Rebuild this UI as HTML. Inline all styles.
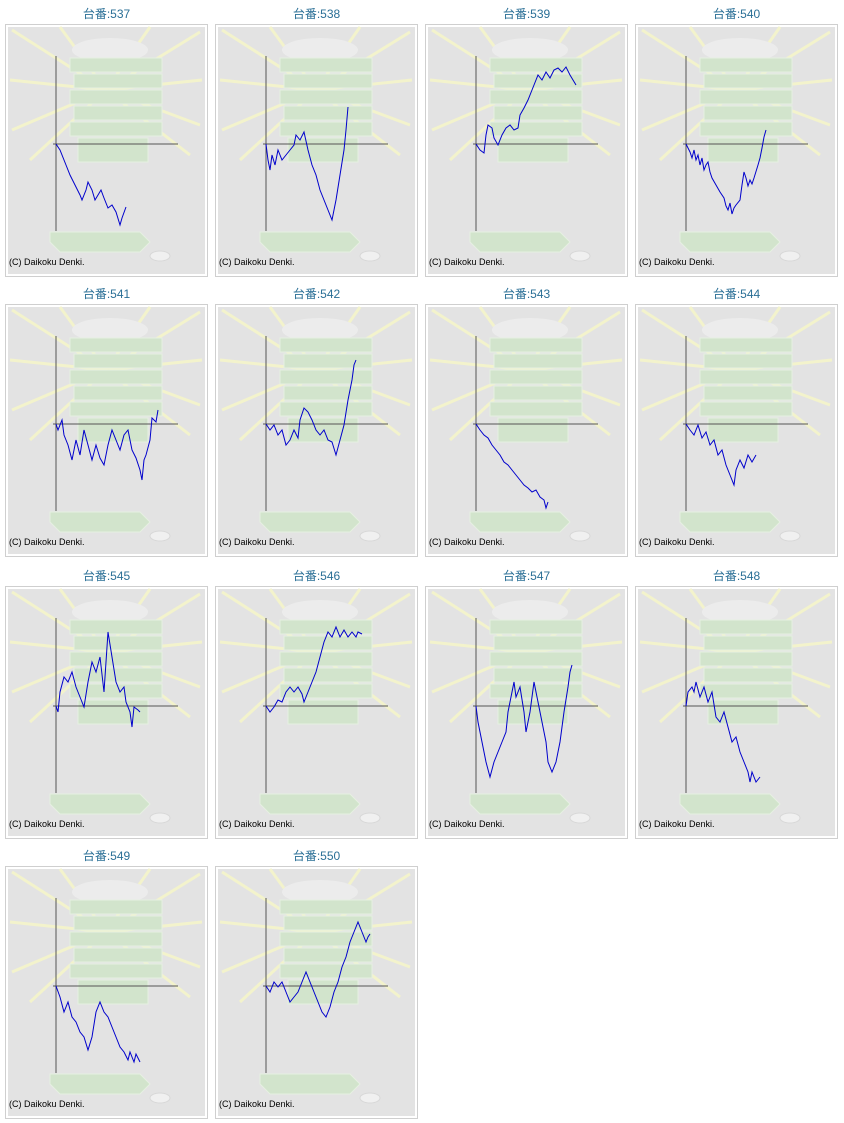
<!DOCTYPE html>
<html><head><meta charset="utf-8"><style>
body{margin:0;width:844px;height:1123px;background:#fff;position:relative;overflow:hidden;font-family:"Liberation Sans","Noto Sans CJK JP",sans-serif}
.t{position:absolute;width:203px;text-align:center;font-size:12px;color:#2a6f96}
.p{position:absolute;width:203px;height:253px}
</style></head><body>
<svg width="0" height="0" style="position:absolute"><defs>
<g id="bg">
<rect x="5.5" y="24.5" width="202" height="252" fill="#fff" stroke="#cfcfcf"/>
<rect x="8" y="27" width="197" height="247" fill="#e3e3e3"/>
<g stroke="#f3f3cc" stroke-width="3">
<line x1="106" y1="90" x2="12" y2="30"/><line x1="106" y1="90" x2="10" y2="80"/><line x1="106" y1="90" x2="12" y2="130"/><line x1="106" y1="90" x2="30" y2="160"/>
<line x1="106" y1="90" x2="60" y2="27"/><line x1="106" y1="90" x2="150" y2="27"/><line x1="106" y1="90" x2="200" y2="32"/><line x1="106" y1="90" x2="202" y2="80"/>
<line x1="106" y1="90" x2="200" y2="125"/><line x1="106" y1="90" x2="190" y2="155"/>
</g>
<ellipse cx="110" cy="50" rx="38" ry="12" fill="#ececec"/>
<g fill="#d2e4cc" stroke="#e6f0e2">
<rect x="70" y="58" width="92" height="14"/><rect x="74" y="74" width="88" height="14"/><rect x="70" y="90" width="92" height="14"/><rect x="74" y="106" width="88" height="14"/><rect x="70" y="122" width="92" height="14"/><rect x="78" y="138" width="70" height="24"/>
<path d="M50 232 L140 232 L150 242 L140 252 L60 252 L50 242Z"/>
</g>
<ellipse cx="160" cy="256" rx="10" ry="5" fill="#f0f0f0" stroke="#d8d8d8"/>
<line x1="56" y1="56" x2="56" y2="231" stroke="#555" stroke-width="1"/>
<line x1="53" y1="144" x2="178" y2="144" stroke="#555" stroke-width="1"/>
<text x="9" y="265" font-size="9" font-family="Liberation Sans, sans-serif" fill="#000">(C) Daikoku Denki.</text>
</g></defs></svg>

<div class="t" style="left:5px;top:5px">台番:537</div>
<svg class="p" style="left:5px;top:24px" viewBox="5 24 203 253"><use href="#bg"/><polyline fill="none" stroke="#0000cc" points="56,144 60,150 66,165 70,175 75,185 80,195 82,200 86,190 88,182 92,190 95,200 98,195 101,190 104,198 108,208 112,205 116,212 120,225 122,218 126,207"/></svg>

<div class="t" style="left:215px;top:5px">台番:538</div>
<svg class="p" style="left:215px;top:24px" viewBox="5 24 203 253"><use href="#bg"/><polyline fill="none" stroke="#0000cc" points="56,144 58,160 60,170 62,155 65,165 68,150 72,160 76,155 80,150 84,145 86,135 90,140 94,132 98,150 102,165 106,175 110,190 114,200 118,210 122,220 126,200 130,175 134,150 136,130 138,107"/></svg>

<div class="t" style="left:425px;top:5px">台番:539</div>
<svg class="p" style="left:425px;top:24px" viewBox="5 24 203 253"><use href="#bg"/><polyline fill="none" stroke="#0000cc" points="56,144 60,150 64,153 66,135 68,125 72,128 74,138 78,145 82,135 86,128 90,125 94,130 98,128 100,115 104,108 108,100 112,90 114,85 118,75 122,80 126,72 130,78 134,70 138,68 142,72 146,67 150,75 156,85"/></svg>

<div class="t" style="left:635px;top:5px">台番:540</div>
<svg class="p" style="left:635px;top:24px" viewBox="5 24 203 253"><use href="#bg"/><polyline fill="none" stroke="#0000cc" points="56,144 60,152 62,158 64,150 66,160 68,155 70,165 72,158 74,170 76,165 78,162 80,172 82,178 86,185 90,192 94,198 96,206 98,210 100,203 102,214 104,208 106,205 110,200 112,185 114,172 116,178 118,186 120,180 122,184 124,178 128,165 130,158 132,148 134,137 136,130"/></svg>

<div class="t" style="left:5px;top:285px">台番:541</div>
<svg class="p" style="left:5px;top:304px" viewBox="5 24 203 253"><use href="#bg"/><polyline fill="none" stroke="#0000cc" points="56,144 58,150 62,140 64,155 68,165 72,180 76,160 80,175 84,150 88,165 92,180 96,165 100,178 104,185 108,165 112,150 116,160 120,170 124,155 128,150 132,170 136,178 140,190 142,200 144,180 146,175 150,160 152,138 156,142 158,130"/></svg>

<div class="t" style="left:215px;top:285px">台番:542</div>
<svg class="p" style="left:215px;top:304px" viewBox="5 24 203 253"><use href="#bg"/><polyline fill="none" stroke="#0000cc" points="56,144 60,150 64,145 68,155 72,150 76,165 80,160 84,150 88,158 90,140 94,128 98,132 102,140 106,150 110,155 114,150 118,160 122,162 126,175 130,160 134,145 138,120 142,100 144,85 146,80"/></svg>

<div class="t" style="left:425px;top:285px">台番:543</div>
<svg class="p" style="left:425px;top:304px" viewBox="5 24 203 253"><use href="#bg"/><polyline fill="none" stroke="#0000cc" points="56,144 60,150 64,155 68,158 72,165 76,170 80,175 84,182 88,185 92,190 96,195 100,200 104,205 108,208 112,212 116,210 120,217 124,220 126,228 128,222"/></svg>

<div class="t" style="left:635px;top:285px">台番:544</div>
<svg class="p" style="left:635px;top:304px" viewBox="5 24 203 253"><use href="#bg"/><polyline fill="none" stroke="#0000cc" points="56,144 60,150 64,155 68,145 72,158 76,152 80,165 84,160 88,175 92,170 96,185 100,195 104,205 106,190 110,180 114,188 118,175 122,182 126,175"/></svg>

<div class="t" style="left:5px;top:567px">台番:545</div>
<svg class="p" style="left:5px;top:586px" viewBox="5 24 203 253"><use href="#bg"/><polyline fill="none" stroke="#0000cc" points="56,144 58,150 60,130 64,115 68,120 72,110 76,125 80,135 84,145 88,120 92,100 96,110 100,95 104,130 108,70 112,95 116,120 120,130 124,125 126,140 130,150 132,165 134,145 138,148 140,150"/></svg>

<div class="t" style="left:215px;top:567px">台番:546</div>
<svg class="p" style="left:215px;top:586px" viewBox="5 24 203 253"><use href="#bg"/><polyline fill="none" stroke="#0000cc" points="56,144 60,150 64,145 68,138 72,140 76,130 80,125 84,130 88,125 92,132 94,140 98,130 102,120 106,110 110,95 114,80 118,70 122,75 126,65 130,75 134,68 138,75 142,70 146,75 148,70 152,72"/></svg>

<div class="t" style="left:425px;top:567px">台番:547</div>
<svg class="p" style="left:425px;top:586px" viewBox="5 24 203 253"><use href="#bg"/><polyline fill="none" stroke="#0000cc" points="56,144 58,160 62,180 66,200 70,215 74,200 78,190 82,180 86,170 88,150 90,140 94,120 96,135 100,125 104,150 106,170 110,150 114,120 118,140 122,160 126,180 128,200 132,210 136,200 140,180 144,150 148,125 150,110 152,103"/></svg>

<div class="t" style="left:635px;top:567px">台番:548</div>
<svg class="p" style="left:635px;top:586px" viewBox="5 24 203 253"><use href="#bg"/><polyline fill="none" stroke="#0000cc" points="56,144 58,130 62,125 64,130 66,120 70,135 74,125 78,140 82,130 86,155 90,160 94,150 98,165 102,180 106,175 110,190 114,200 118,210 120,220 122,210 126,220 130,215"/></svg>

<div class="t" style="left:5px;top:847px">台番:549</div>
<svg class="p" style="left:5px;top:866px" viewBox="5 24 203 253"><use href="#bg"/><polyline fill="none" stroke="#0000cc" points="56,144 60,155 64,170 68,160 72,175 76,180 80,190 84,195 88,208 92,195 96,170 100,160 104,170 108,175 112,185 116,195 120,205 124,210 128,218 130,210 134,220 136,212 140,220"/></svg>

<div class="t" style="left:215px;top:847px">台番:550</div>
<svg class="p" style="left:215px;top:866px" viewBox="5 24 203 253"><use href="#bg"/><polyline fill="none" stroke="#0000cc" points="56,144 60,150 64,140 68,145 72,140 76,150 80,160 84,155 88,150 92,140 96,130 100,140 104,150 108,160 112,170 116,175 120,165 124,150 128,140 132,125 136,115 140,100 144,90 148,80 152,90 156,100 158,95 160,92"/></svg>
</body></html>
